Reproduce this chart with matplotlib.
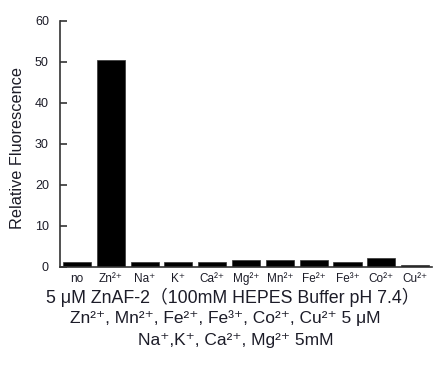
import matplotlib
matplotlib.use("Agg")
import matplotlib.pyplot as plt

plt.rcParams['font.family'] = ['Liberation Sans', 'DejaVu Sans', 'Noto Sans CJK JP']

# data
ions = ["no", "Zn\u00b2\u207a", "Na\u207a", "K\u207a", "Ca\u00b2\u207a", "Mg\u00b2\u207a",
        "Mn\u00b2\u207a", "Fe\u00b2\u207a", "Fe\u00b3\u207a", "Co\u00b2\u207a", "Cu\u00b2\u207a"]
fluorescence = [1.1, 50.6, 1.1, 1.1, 1.1, 1.8, 1.8, 1.8, 1.2, 2.1, 0.6]
yticks = [0, 10, 20, 30, 40, 50, 60]

notes = [
    "5 \u03bcM ZnAF-2\uff08100mM HEPES Buffer pH 7.4\uff09",
    "Zn\u00b2\u207a, Mn\u00b2\u207a, Fe\u00b2\u207a, Fe\u00b3\u207a, Co\u00b2\u207a, Cu\u00b2\u207a 5 \u03bcM",
    "Na\u207a,K\u207a, Ca\u00b2\u207a, Mg\u00b2\u207a 5mM",
]
noteSizes = [12.8, 12.5, 12.5]

txtColor = "#1c1c28"

fig = plt.figure(figsize=(4.36, 3.68), dpi=100)
ax = fig.add_axes([0.1376, 0.2745, 0.8534, 0.6685])

positions = list(range(len(ions)))
ax.bar(positions, fluorescence, width=0.83, color="black", edgecolor="#333333", linewidth=0.5)

ax.set_xlim(-0.5, 10.5)
ax.set_ylim(0, 60)
ax.set_yticks(yticks)
ax.set_xticks(positions)
ax.set_xticklabels(ions, fontsize=8.5, color=txtColor)
ax.tick_params(axis='x', length=0, pad=4)
ax.tick_params(axis='y', direction='in', length=5, width=1.2, color="#333333",
               labelsize=9, labelcolor=txtColor, pad=8)

for side in ['top', 'right']:
    ax.spines[side].set_visible(False)
for side in ['left', 'bottom']:
    ax.spines[side].set_linewidth(1.2)
    ax.spines[side].set_color("#333333")

fig.text(17 / 436, 1 - 148 / 368, "Relative Fluorescence", rotation=90,
         ha='center', va='center', fontsize=11.7, color=txtColor)

ys = [297, 318, 340]
xs = [233, 225, 236]
for t, x, y, s in zip(notes, xs, ys, noteSizes):
    fig.text(x / 436, 1 - y / 368, t, ha='center', va='center', fontsize=s, color=txtColor)

fig.savefig("out.png", dpi=100)
